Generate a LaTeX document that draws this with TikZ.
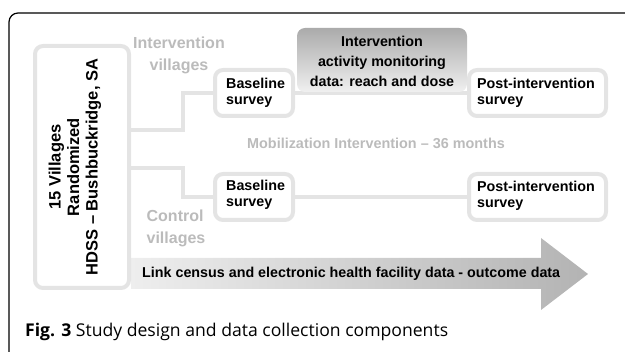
\documentclass[tikz,border=0pt]{standalone}
\usepackage{fontspec}
\setmainfont{Liberation Sans}
\newfontfamily\capfont{Open Sans}
\definecolor{boxline}{HTML}{E4E4E4}
\definecolor{graytext}{HTML}{BBBBBB}
\definecolor{shadetop}{HTML}{ABABAB}
\definecolor{shadebot}{HTML}{F0F0F0}
\definecolor{arrowleft}{HTML}{EEEEEE}
\definecolor{arrowright}{HTML}{B3B3B3}
\tikzset{
  surveybox/.style={draw=boxline, line width=4pt, fill=white, rounded corners=8pt, inner sep=0pt, outer sep=0pt},
  conn/.style={draw=boxline, line width=4pt},
  bodytext/.style={font=\fontsize{14.3}{16.5}\selectfont\bfseries, align=left, inner sep=0pt},
  grayhead/.style={font=\fontsize{16}{22}\selectfont\bfseries, text=graytext, align=center, inner sep=0pt},
}
\begin{document}
\begin{tikzpicture}[x=1pt,y=-1pt]
\useasboundingbox (0,0) rectangle (625,352);
% outer frame
\draw[line width=1.2pt, rounded corners=9pt] (9,370) -- (9,13) -- (640,13);
% big arrow
\shade[left color=arrowleft, right color=arrowright]
  (131,258) -- (541,258) -- (541,238) -- (588,274) -- (541,310) -- (541,289) -- (131,289) -- cycle;
\node[bodytext, anchor=west] (link) at (142,274) {Link census and electronic health facility data - outcome data};
% left box
\node[surveybox, minimum width=94pt, minimum height=242pt] (leftbox) at (82,167) {};
\node[font=\fontsize{16.5}{18.5}\selectfont\bfseries, rotate=90, align=center, inner sep=0pt] (lefttext) at (75,167)
  {15 Villages\\Randomized\\HDSS -- Bushbuckridge, SA};
% junctions
\coordinate (jA) at (183,130);
\coordinate (jB) at (183,168);
% survey boxes
\node[surveybox, minimum width=78pt, minimum height=46pt] (upbase) at (254,93) {};
\node[surveybox, minimum width=137pt, minimum height=46pt] (uppost) at (537.5,93) {};
\node[surveybox, minimum width=78pt, minimum height=46pt] (lowbase) at (254,197) {};
\node[surveybox, minimum width=137pt, minimum height=46pt] (lowpost) at (537.5,197) {};
% connectors
\draw[conn] (leftbox.east |- jA) -- (jA) |- (upbase.west);
\draw[conn] (leftbox.east |- jB) -- (jB) |- (lowbase.west);
\draw[conn] (upbase.east) -- (uppost.west);
\draw[conn] (lowbase.east) -- (lowpost.west);
% monitoring box
\node[rounded corners=8pt, top color=shadetop, bottom color=shadebot, minimum width=170pt, minimum height=64pt, inner sep=0pt, outer sep=0pt] (monitor) at (382,60) {};
\node[font=\fontsize{14.3}{20}\selectfont\bfseries, align=center, inner sep=0pt] (montext) at (382,61)
  {Intervention\\activity monitoring\\data: reach and dose};
% box texts
\node[bodytext, anchor=west] (upbasetext) at (226,93) {Baseline\\survey};
\node[bodytext, anchor=west] (uposttext) at (477,93) {Post-intervention\\survey};
\node[bodytext, anchor=west] (lowbasetext) at (226,195) {Baseline\\survey};
\node[bodytext, anchor=west] (lowposttext) at (477,196) {Post-intervention\\survey};
% gray labels
\node[grayhead] (intv) at (179,55) {Intervention\\villages};
\node[grayhead, align=left] (ctrl) at (176,228) {Control\\villages};
\node[grayhead, font=\fontsize{14.4}{16}\selectfont\bfseries] (mob) at (376,143) {Mobilization Intervention -- 36 months};
% caption
\node[anchor=base west, inner sep=0pt, font=\capfont\fontsize{17.6}{20}\selectfont] (cap) at (25,337)
  {\textbf{Fig. 3} Study design and data collection components};
\end{tikzpicture}
\end{document}
